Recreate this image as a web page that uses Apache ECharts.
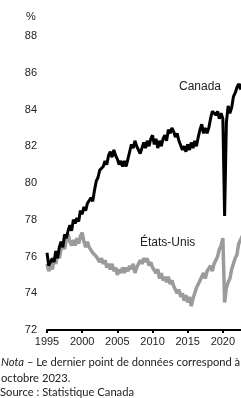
<!DOCTYPE html>
<html>
<head>
<meta charset="utf-8">
<script src="https://cdn.jsdelivr.net/npm/echarts@6/dist/echarts.min.js"></script>
<style>
  html, body { margin: 0; padding: 0; background: #fff; overflow: hidden; width: 241px; height: 398px; }
  #chart { width: 262px; height: 398px; }
</style>
</head>
<body>
<div id="chart"></div>
<script>
// trimestriel, de 1995T1 à 2023T4
const startYear = 1995
const step = 0.25

const canada = [
  76.2, 75.5, 75.7, 75.9,
  75.7, 76.3, 75.9, 76.5,
  76.8, 76.5, 77.2, 77.0,
  77.4, 77.7, 77.4, 78.0,
  77.8, 78.1, 77.9, 78.5,
  78.3, 78.7, 78.5, 78.9,
  78.8, 79.2, 79.0, 79.6,
  80.1, 80.3, 80.7, 80.6,
  80.9, 81.2, 81.0, 81.5,
  81.7, 81.4, 81.8, 81.5,
  81.3, 81.0, 81.2, 80.9,
  81.2, 80.9, 81.3, 81.7,
  82.1, 81.9, 82.3, 82.0,
  82.1, 81.6, 81.9, 82.2,
  81.9, 82.3, 82.0, 82.4,
  82.6, 82.1, 82.4, 81.9,
  82.3, 82.0, 82.4, 82.6,
  82.3, 82.9, 82.7, 83.0,
  82.8, 82.5, 82.7, 82.3,
  82.2, 81.8, 82.0, 81.7,
  82.1, 81.8, 82.2, 81.9,
  82.3, 82.0, 82.5, 82.9,
  83.2, 82.7, 83.0, 82.7,
  83.0, 83.5, 83.9, 84.0,
  83.7, 83.9, 83.5, 83.8,
  83.5, 78.2, 83.3, 84.2,
  83.8, 84.1, 84.7, 84.9,
  85.2, 85.4, 85.1, 85.4,
  85.6, 85.2, 85.6, 85.4
]

const etatsUnis = [
  75.6, 75.2, 75.5, 75.3,
  75.8, 75.6, 76.2, 75.9,
  76.4, 76.7, 76.4, 76.9,
  77.2, 76.8, 76.6, 76.9,
  76.6, 77.0, 76.7, 77.1,
  77.3, 76.8, 76.5, 76.8,
  76.5, 76.6, 76.2, 76.3,
  76.0, 76.1, 75.7, 75.9,
  75.6, 75.8, 75.4, 75.6,
  75.3, 75.6, 75.2, 75.4,
  75.0, 75.3, 75.1, 75.4,
  75.1, 75.4, 75.2, 75.5,
  75.3, 75.6, 75.1, 75.4,
  75.5, 75.8, 75.6, 75.9,
  75.7, 75.9, 75.5, 75.7,
  75.4, 75.5, 75.1, 75.3,
  74.8, 75.1, 74.7, 74.9,
  74.6, 74.9, 74.5, 74.7,
  74.4, 74.5, 74.0, 74.2,
  73.8, 74.0, 73.6, 73.9,
  73.5, 73.8, 73.3, 73.7,
  74.0, 74.3, 74.4, 74.7,
  74.7, 75.1, 74.8, 75.2,
  75.3, 75.5, 75.2, 75.6,
  75.8, 76.0, 76.4, 76.6,
  77.0, 73.5, 74.3, 74.6,
  74.8, 75.3, 75.4, 75.9,
  76.1, 76.7, 76.8, 77.1,
  77.2, 77.5, 77.3, 77.6
]

const yTicks = { min: 72, max: 88, interval: 2 }
const xTicks = { min: 1995, max: 2024, interval: 5 }

const toPairs = arr => arr.map((v, i) => [startYear + i * step, v])

const chart = echarts.init(document.getElementById('chart'))

const textColor = '#222'
const arial = '"Liberation Sans", Arial, sans-serif'
const noteFont = 'Lato, "Open Sans", sans-serif'

chart.setOption({
  animation: false,
  grid: { left: 47, right: 11, top: 36, bottom: 68 },
  xAxis: {
    type: 'value',
    min: xTicks.min,
    max: xTicks.max,
    interval: xTicks.interval,
    axisLine: { show: true, lineStyle: { color: '#000', width: 2 } },
    axisTick: { show: true, length: 3, lineStyle: { color: '#000', width: 2 } },
    splitLine: { show: false },
    axisLabel: {
      color: textColor, fontSize: 11, fontFamily: arial, margin: 6,
      showMaxLabel: false,
      formatter: v => String(v)
    }
  },
  yAxis: {
    type: 'value',
    min: yTicks.min,
    max: yTicks.max,
    interval: yTicks.interval,
    axisLine: { show: false },
    axisTick: { show: false },
    splitLine: { show: false },
    axisLabel: { color: textColor, fontSize: 11, fontFamily: arial, margin: 10 }
  },
  series: [
    {
      name: 'États-Unis', type: 'line', data: toPairs(etatsUnis), showSymbol: false,
      lineStyle: { color: '#9b9b9b', width: 3.5 }, z: 2
    },
    {
      name: 'Canada', type: 'line', data: toPairs(canada), showSymbol: false,
      lineStyle: { color: '#000', width: 3 }, z: 3
    }
  ],
  graphic: [
    { type: 'text', left: 26, top: 11, style: { text: '%', fill: textColor, font: '11px ' + arial } },
    { type: 'text', left: 179, top: 81, style: { text: 'Canada', fill: textColor, font: '12px ' + arial } },
    { type: 'text', left: 140, top: 237, style: { text: 'États-Unis', fill: textColor, font: '12px ' + arial } },
    {
      type: 'text', left: 1, top: 354,
      style: {
        text: '{i|Nota} – Le dernier point de données correspond à\noctobre 2023.',
        fill: textColor, font: '11.2px ' + noteFont, lineHeight: 16,
        rich: { i: { fontStyle: 'italic', fontFamily: noteFont, fontSize: 11.2, fill: textColor } }
      }
    },
    { type: 'text', left: 0, top: 387, style: { text: 'Source : Statistique Canada', fill: textColor, font: '11.2px ' + noteFont } }
  ]
})
</script>
</body>
</html>
